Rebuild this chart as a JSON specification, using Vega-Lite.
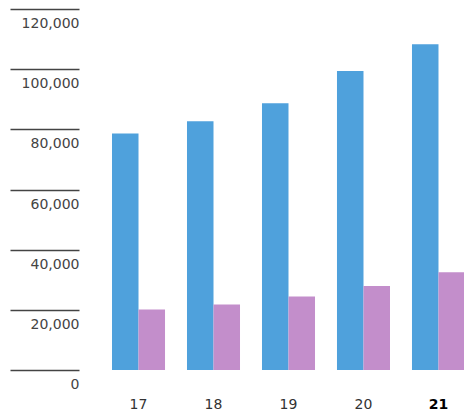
{
  "$schema": "https://vega.github.io/schema/vega-lite/v6.json",
  "autosize": {"type": "none"},
  "padding": {"left": 79, "top": 9, "right": 0, "bottom": 43},
  "width": 386,
  "height": 361,
  "background": "white",
  "config": {"view": {"stroke": null}, "font": "DejaVu Sans"},
  "data": {
    "values": [
      {"year": "17", "series": "A", "value": 78600},
      {"year": "17", "series": "B", "value": 20100},
      {"year": "18", "series": "A", "value": 82700},
      {"year": "18", "series": "B", "value": 21800},
      {"year": "19", "series": "A", "value": 88700},
      {"year": "19", "series": "B", "value": 24400},
      {"year": "20", "series": "A", "value": 99400},
      {"year": "20", "series": "B", "value": 27900},
      {"year": "21", "series": "A", "value": 108300},
      {"year": "21", "series": "B", "value": 32500}
    ]
  },
  "mark": {"type": "bar"},
  "encoding": {
    "x": {
      "field": "year",
      "type": "nominal",
      "title": null,
      "scale": {"paddingInner": 0.293, "paddingOuter": 0.22, "align": 1},
      "axis": {
        "domain": false,
        "ticks": false,
        "labelAngle": 0,
        "labelFontSize": 14,
        "labelPadding": 27,
        "labelBaseline": "top",
        "labelColor": {"condition": {"test": "datum.value == '21'", "value": "#000000"}, "value": "#333333"},
        "labelFontWeight": {"condition": {"test": "datum.value == '21'", "value": "bold"}, "value": "normal"}
      }
    },
    "xOffset": {"field": "series", "type": "nominal", "scale": {"paddingInner": 0, "paddingOuter": 0}},
    "y": {
      "field": "value",
      "type": "quantitative",
      "title": null,
      "scale": {"domain": [0, 120000], "nice": false},
      "axis": {
        "values": [0, 20000, 40000, 60000, 80000, 100000, 120000],
        "format": ",d",
        "domain": false,
        "grid": false,
        "ticks": true,
        "tickSize": 69,
        "tickColor": "#444444",
        "tickWidth": 1.3,
        "labelAlign": "right",
        "labelBaseline": "alphabetic",
        "labelPadding": -69,
        "labelOffset": 18.5,
        "labelFontSize": 14,
        "labelColor": "#444444"
      }
    },
    "color": {
      "field": "series",
      "type": "nominal",
      "legend": null,
      "scale": {"domain": ["A", "B"], "range": ["#4FA1DC", "#C38ECB"]}
    }
  }
}
